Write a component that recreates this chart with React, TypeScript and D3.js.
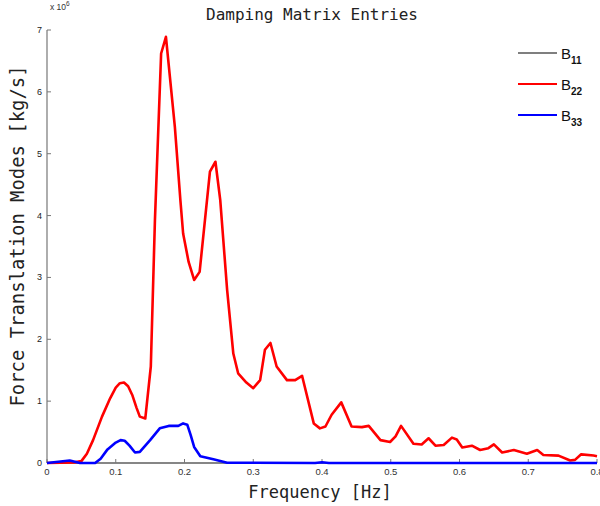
import * as React from "react";
import * as d3 from "d3";

// frequency [Hz] and damping [x 1e6 kg/s]
const freqB22 = [0, 0.04, 0.05, 0.058, 0.067, 0.08, 0.092, 0.1, 0.106, 0.112, 0.118, 0.124, 0.13, 0.135, 0.143, 0.151, 0.157, 0.166, 0.173, 0.186, 0.194, 0.198, 0.206, 0.214, 0.222, 0.237, 0.245, 0.252, 0.262, 0.271, 0.278, 0.29, 0.3, 0.31, 0.317, 0.325, 0.334, 0.349, 0.361, 0.371, 0.388, 0.397, 0.405, 0.414, 0.428, 0.443, 0.458, 0.468, 0.485, 0.499, 0.507, 0.515, 0.533, 0.545, 0.555, 0.565, 0.577, 0.589, 0.596, 0.604, 0.618, 0.63, 0.642, 0.65, 0.662, 0.679, 0.698, 0.713, 0.722, 0.744, 0.761, 0.768, 0.777, 0.795, 0.8];
const valB22 = [0, 0.01, 0.03, 0.15, 0.37, 0.75, 1.05, 1.22, 1.29, 1.3, 1.24, 1.1, 0.9, 0.75, 0.72, 1.56, 3.93, 6.62, 6.89, 5.43, 4.25, 3.71, 3.25, 2.96, 3.09, 4.71, 4.87, 4.25, 2.8, 1.77, 1.45, 1.3, 1.21, 1.34, 1.83, 1.94, 1.56, 1.34, 1.34, 1.41, 0.64, 0.56, 0.59, 0.78, 0.98, 0.59, 0.58, 0.6, 0.37, 0.34, 0.43, 0.6, 0.31, 0.3, 0.4, 0.28, 0.29, 0.41, 0.38, 0.25, 0.28, 0.21, 0.24, 0.3, 0.17, 0.21, 0.15, 0.21, 0.13, 0.12, 0.04, 0.05, 0.14, 0.12, 0.11];

const freqB33 = [0, 0.033, 0.048, 0.07, 0.078, 0.088, 0.1, 0.107, 0.113, 0.12, 0.128, 0.135, 0.15, 0.164, 0.177, 0.191, 0.198, 0.204, 0.209, 0.214, 0.223, 0.242, 0.262, 0.39, 0.4, 0.41, 0.8];
const valB33 = [0, 0.04, 0.0, 0.0, 0.07, 0.22, 0.33, 0.37, 0.36, 0.28, 0.17, 0.18, 0.37, 0.56, 0.6, 0.6, 0.64, 0.62, 0.45, 0.26, 0.11, 0.06, 0.005, 0.0, 0.012, 0.0, 0.0];

const freqB11 = [0, 0.8];
const valB11 = [0, 0];

const xTicks = [0, 0.1, 0.2, 0.3, 0.4, 0.5, 0.6, 0.7, 0.8];
const yTicks = [0, 1, 2, 3, 4, 5, 6, 7];

const legendItems = [
  { base: "B", sub: "11", color: "#000000" },
  { base: "B", sub: "22", color: "#ff0000" },
  { base: "B", sub: "33", color: "#0000ff" },
];

const mono = "'DejaVu Sans Mono', monospace";
const sans = "'Liberation Sans', Arial, sans-serif";

export default function App() {
  const width = 600;
  const height = 506;
  const left = 47;
  const right = 597;
  const top = 30;
  const bottom = 463;

  const x = d3.scaleLinear().domain([0, 0.8]).range([left, right]);
  const y = d3.scaleLinear().domain([0, 7]).range([bottom, top]);

  const line = d3
    .line<[number, number]>()
    .x((d) => x(d[0]))
    .y((d) => y(d[1]))
    .curve(d3.curveLinear);

  const toPts = (f: number[], v: number[]) => f.map((d, j) => [d, v[j]] as [number, number]);

  return (
    <svg
      width={width}
      height={height}
      style={{ position: "absolute", left: 0, top: 0, background: "#fff" }}
    >
      <text x={312} y={20} textAnchor="middle" fontFamily={mono} fontSize={16} fill="#222">
        Damping Matrix Entries
      </text>

      {/* B11 sits on the zero line, under the axis */}
      <path d={line(toPts(freqB11, valB11)) || ""} fill="none" stroke="#000" strokeWidth={1} />

      {/* axes */}
      <line x1={left} y1={top} x2={left} y2={bottom} stroke="#777" strokeWidth={1.2} />
      <line x1={left} y1={bottom} x2={right} y2={bottom} stroke="#888" strokeWidth={1.6} />

      {yTicks.map((d) => (
        <g key={"y" + d} transform={`translate(${left}, ${y(d)})`}>
          <line x1={0} x2={4} stroke="#777" />
          <text x={-5} y={0} textAnchor="end" dominantBaseline="central" fontFamily={sans} fontSize={9} fill="#222">
            {d}
          </text>
        </g>
      ))}
      {xTicks.map((d) => (
        <g key={"x" + d} transform={`translate(${x(d)}, ${bottom})`}>
          <line y1={0} y2={-4} stroke="#777" />
          <text x={0} y={12} textAnchor="middle" fontFamily={sans} fontSize={9.5} fill="#333">
            {d}
          </text>
        </g>
      ))}
      <text x={left + 3} y={top - 20} fontFamily={sans} fontSize={8.5} fill="#333">
        x 10<tspan dy={-4} fontSize={6.5}>6</tspan>
      </text>

      <text
        transform={`translate(24, 236) rotate(-90)`}
        textAnchor="middle"
        fontFamily={mono}
        fontSize={18.9}
        fill="#222"
      >
        Force Translation Modes [kg/s]
      </text>
      <text x={320} y={498} textAnchor="middle" fontFamily={mono} fontSize={17} fill="#222">
        Frequency [Hz]
      </text>

      <path d={line(toPts(freqB22, valB22)) || ""} fill="none" stroke="#ff0000" strokeWidth={2.6} strokeLinejoin="round" />
      <path d={line(toPts(freqB33, valB33)) || ""} fill="none" stroke="#0000ff" strokeWidth={2.6} strokeLinejoin="round" />

      {/* legend */}
      {legendItems.map((d, i) => (
        <g key={"l" + i} transform={`translate(518, ${53 + i * 31})`}>
          <line x1={0} x2={39} stroke={d.color} strokeWidth={d.color === "#000000" ? 1.2 : 2} />
          <text x={43} y={6} fontFamily={sans} fontSize={15} fill="#111">
            {d.base}
            <tspan dy={5} fontSize={10} fontWeight="bold">{d.sub}</tspan>
          </text>
        </g>
      ))}
    </svg>
  );
}
